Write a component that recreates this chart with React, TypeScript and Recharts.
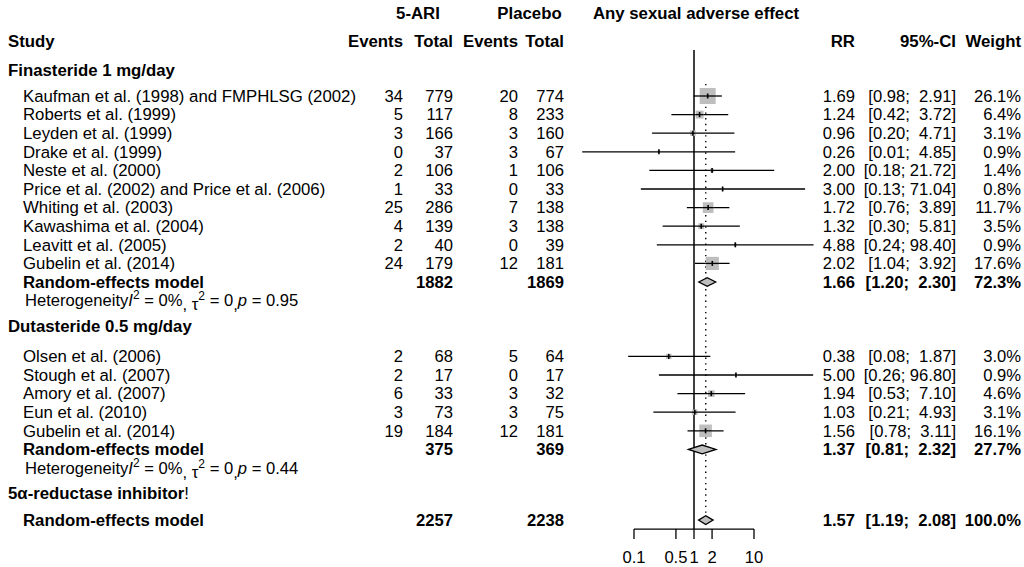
import React from 'react';
import { ComposedChart, XAxis, YAxis, Scatter, ReferenceLine } from 'recharts';

// ---------------- data ----------------
const finNames = [
  'Kaufman et al. (1998) and FMPHLSG (2002)',
  'Roberts et al. (1999)',
  'Leyden et al. (1999)',
  'Drake et al. (1999)',
  'Neste et al. (2000)',
  'Price et al. (2002) and Price et al. (2006)',
  'Whiting et al. (2003)',
  'Kawashima et al. (2004)',
  'Leavitt et al. (2005)',
  'Gubelin et al. (2014)',
];
const finEventsARI = [34, 5, 3, 0, 2, 1, 25, 4, 2, 24];
const finTotalARI = [779, 117, 166, 37, 106, 33, 286, 139, 40, 179];
const finEventsPlacebo = [20, 8, 3, 3, 1, 0, 7, 3, 0, 12];
const finTotalPlacebo = [774, 233, 160, 67, 106, 33, 138, 138, 39, 181];
const finRR = [1.69, 1.24, 0.96, 0.26, 2.0, 3.0, 1.72, 1.32, 4.88, 2.02];
const finLower = [0.98, 0.42, 0.2, 0.0137, 0.18, 0.13, 0.76, 0.3, 0.24, 1.04];
const finUpper = [2.91, 3.72, 4.71, 4.85, 21.72, 71.04, 3.89, 5.81, 98.4, 3.92];
const finWeight = [26.1, 6.4, 3.1, 0.9, 1.4, 0.8, 11.7, 3.5, 0.9, 17.6];

const dutNames = [
  'Olsen et al. (2006)',
  'Stough et al. (2007)',
  'Amory et al. (2007)',
  'Eun et al. (2010)',
  'Gubelin et al. (2014)',
];
const dutEventsARI = [2, 2, 6, 3, 19];
const dutTotalARI = [68, 17, 33, 73, 184];
const dutEventsPlacebo = [5, 0, 3, 3, 12];
const dutTotalPlacebo = [64, 17, 32, 75, 181];
const dutRR = [0.38, 5.0, 1.94, 1.03, 1.56];
const dutLower = [0.08, 0.26, 0.53, 0.21, 0.78];
const dutUpper = [1.87, 96.8, 7.1, 4.93, 3.11];
const dutWeight = [3.0, 0.9, 4.6, 3.1, 16.1];

const groupLabels = ['Finasteride 1 mg/day', 'Dutasteride 0.5 mg/day', '5α-reductase inhibitor'];
const pooledLabel = 'Random-effects model';
const pooledTotalARI = [1882, 375, 2257];
const pooledTotalPlacebo = [1869, 369, 2238];
const pooledRR = [1.66, 1.37, 1.57];
const pooledLower = [1.2, 0.81, 1.19];
const pooledUpper = [2.3, 2.32, 2.08];
const pooledWeight = [72.3, 27.7, 100.0];

const hetI2 = ['0%', '0%'];
const hetTau2 = ['0', '0'];
const hetP = ['0.95', '0.44'];

const tickValues = [0.1, 0.5, 1, 2, 10];
const tickLabels = ['0.1', '0.5', '1', '2', '10'];

const headerTop = ['5-ARI', 'Placebo', 'Any sexual adverse effect'];
const headerBottom = ['Study', 'Events', 'Total', 'Events', 'Total', 'RR', '95%-CI', 'Weight'];

// ---------------- layout ----------------
const W = 1024;
const H = 567;
const FONT = '"Liberation Sans", Arial, Helvetica, sans-serif';
const FS = 16.8;
const FS_NUM = 16.6;
const FS_HET = 16.6;
const X = {
  header: 8, study: 23, het: 25, evA: 403, totA: 453, evP: 518, totP: 564,
  rr: 855, ci: 956, w: 1021, hdrARI: 418, hdrPbo: 529.5, hdrForest: 696,
};
const R = {
  hdr1: -4.46, hdr2: -2.96, grp: [-1.4, 12.37, 21.34], finStart: 0, dutStart: 14,
  pooled: [10, 19, 22.8], het: [11, 20], axis: 23.28, tickEnd: 23.82, tickLbl: 24.78,
  refTop: -2.47, dotTop: -0.65, dotBottom: 22.42,
};
const DIAMOND_HALF = 0.235;
const SQ = 3.13;
const GRAY = '#bebebe';

type Study = {
  name: string; evA: number; totA: number; evP: number; totP: number;
  rr: number; lo: number; hi: number; w: number; row: number;
};

const studies: Study[] = [
  ...finNames.map((name, k) => ({
    name, evA: finEventsARI[k], totA: finTotalARI[k], evP: finEventsPlacebo[k], totP: finTotalPlacebo[k],
    rr: finRR[k], lo: finLower[k], hi: finUpper[k], w: finWeight[k], row: R.finStart + k,
  })),
  ...dutNames.map((name, k) => ({
    name, evA: dutEventsARI[k], totA: dutTotalARI[k], evP: dutEventsPlacebo[k], totP: dutTotalPlacebo[k],
    rr: dutRR[k], lo: dutLower[k], hi: dutUpper[k], w: dutWeight[k], row: R.dutStart + k,
  })),
];

const fmtCI = (lo: number, hi: number) => `[${lo.toFixed(2)}; ${hi.toFixed(2).padStart(5, ' ')}]`;
const fmtW = (w: number) => `${w.toFixed(1)}%`;

type Cell = {
  x: number; y: number; text: string; tx: number; anchor: 'start' | 'middle' | 'end';
  bold?: boolean; suffix?: string; kind?: string; k?: number; size?: number;
};

const cells: Cell[] = [];
const add = (y: number, text: string, tx: number, anchor: Cell['anchor'], bold = false, extra: Partial<Cell> = {}) =>
  cells.push({ x: 1, y, text, tx, anchor, bold, ...extra });

// headers
add(R.hdr1, headerTop[0], X.hdrARI, 'middle', true);
add(R.hdr1, headerTop[1], X.hdrPbo, 'middle', true);
add(R.hdr1, headerTop[2], X.hdrForest, 'middle', true);
const hdrX = [X.header, X.evA, X.totA, X.evP, X.totP, X.rr, X.ci, X.w];
headerBottom.forEach((h, k) => add(R.hdr2, h, hdrX[k], k === 0 ? 'start' : 'end', true));

// group labels
groupLabels.forEach((g, k) => add(R.grp[k], g, X.header, 'start', true, k === 2 ? { suffix: '!' } : {}));

// studies
studies.forEach((s) => {
  add(s.row, s.name, X.study, 'start');
  add(s.row, String(s.evA), X.evA, 'end', false, { size: FS_NUM });
  add(s.row, String(s.totA), X.totA, 'end', false, { size: FS_NUM });
  add(s.row, String(s.evP), X.evP, 'end', false, { size: FS_NUM });
  add(s.row, String(s.totP), X.totP, 'end', false, { size: FS_NUM });
  add(s.row, s.rr.toFixed(2), X.rr, 'end', false, { size: FS_NUM });
  add(s.row, fmtCI(s.lo, s.hi), X.ci, 'end', false, { size: FS_NUM });
  add(s.row, fmtW(s.w), X.w, 'end', false, { size: FS_NUM });
});

// pooled rows
pooledRR.forEach((rr, k) => {
  const y = R.pooled[k];
  add(y, pooledLabel, X.study, 'start', true);
  add(y, String(pooledTotalARI[k]), X.totA, 'end', true, { size: FS_NUM });
  add(y, String(pooledTotalPlacebo[k]), X.totP, 'end', true, { size: FS_NUM });
  add(y, rr.toFixed(2), X.rr, 'end', true, { size: FS_NUM });
  add(y, fmtCI(pooledLower[k], pooledUpper[k]), X.ci, 'end', true, { size: FS_NUM });
  add(y, fmtW(pooledWeight[k]), X.w, 'end', true, { size: FS_NUM });
});

// heterogeneity
hetP.forEach((p, k) => add(R.het[k], p, X.het, 'start', false, { kind: 'het', k }));

const squareData = studies.map((s) => ({ x: s.rr, y: s.row, w: s.w }));
const diamonds = pooledRR.map((rr, k) => {
  const y = R.pooled[k];
  return [
    { x: pooledLower[k], y },
    { x: rr, y: y - DIAMOND_HALF },
    { x: pooledUpper[k], y },
    { x: rr, y: y + DIAMOND_HALF },
  ];
});
const tickCells = tickValues.map((t, k) => ({ x: t, y: R.tickLbl, text: tickLabels[k] }));

// ---------------- shapes ----------------
const SquareShape = (props: any) => {
  const { cx, cy, payload } = props;
  if (cx == null || cy == null || !payload) return <g />;
  const s = SQ * Math.sqrt(payload.w);
  return (
    <g>
      <rect x={cx - s / 2} y={cy - s / 2} width={s} height={s} fill={GRAY} />
      <line x1={cx - s / 2} x2={cx + s / 2} y1={cy} y2={cy} stroke="#000" strokeWidth={1.3} />
      <line x1={cx} x2={cx} y1={cy - 2.5} y2={cy + 2.5} stroke="#000" strokeWidth={1.6} />
    </g>
  );
};

const EmptyShape = () => <g />;

const DiamondLine = (props: any) => {
  const pts = (props.points || []) as { x: number; y: number }[];
  return (
    <polygon
      points={pts.map((p) => `${p.x},${p.y}`).join(' ')}
      fill={GRAY}
      stroke="#000"
      strokeWidth={1.3}
    />
  );
};

const TextShape = (props: any) => {
  const { cy, payload } = props;
  if (cy == null || !payload) return <g />;
  const base = { fontFamily: FONT, fill: '#000', style: { whiteSpace: 'pre' as const } };
  if (payload.kind === 'het') {
    const b = cy + FS_HET * 0.35;
    const k = payload.k as number;
    return (
      <text x={payload.tx} y={b} fontSize={FS_HET} {...base} xmlSpace="preserve">
        Heterogeneity
        <tspan fontStyle="italic" y={b}>I</tspan>
        <tspan fontSize={12} y={b - 7}>2</tspan>
        <tspan y={b}>{` = ${hetI2[k]}`}</tspan>
        <tspan y={b + 4}>,</tspan>
        <tspan y={b + 4}>{' τ'}</tspan>
        <tspan fontSize={12} y={b - 6}>2</tspan>
        <tspan y={b}>{` = ${hetTau2[k]}`}</tspan>
        <tspan y={b + 4}>,</tspan>
        <tspan fontStyle="italic" y={b}>p</tspan>
        <tspan y={b}>{` = ${payload.text}`}</tspan>
      </text>
    );
  }
  return (
    <text
      x={payload.tx}
      y={cy}
      dy="0.35em"
      fontSize={payload.size ?? FS}
      textAnchor={payload.anchor}
      fontWeight={payload.bold ? 'bold' : 'normal'}
      xmlSpace="preserve"
      {...base}
    >
      {payload.text}
      {payload.suffix ? <tspan fontWeight="normal">{payload.suffix}</tspan> : null}
    </text>
  );
};

const TickText = (props: any) => {
  const { cx, cy, payload } = props;
  if (cx == null || cy == null || !payload) return <g />;
  return (
    <text x={cx} y={cy} dy="0.35em" textAnchor="middle" fontSize={FS_NUM} fontFamily={FONT} fill="#000">
      {payload.text}
    </text>
  );
};

export default function App() {
  return (
    <div style={{ position: 'absolute', left: 0, top: 0, width: W, height: H, background: '#fff' }}>
      <ComposedChart width={W} height={H} margin={{ top: 3, right: 210, bottom: 0.4, left: 574 }}>
        <XAxis type="number" dataKey="x" scale="log" domain={[0.01, 100]} hide />
        <YAxis type="number" dataKey="y" domain={[-5, 25.3]} reversed hide />

        <ReferenceLine
          segment={[{ x: 1, y: R.refTop }, { x: 1, y: R.axis }]}
          stroke="#000"
          strokeWidth={1.5}
          ifOverflow="visible"
        />
        <ReferenceLine
          segment={[{ x: pooledRR[2], y: R.dotTop }, { x: pooledRR[2], y: R.dotBottom }]}
          stroke="#000"
          strokeWidth={1.4}
          strokeDasharray="1.4 4.3"
          ifOverflow="visible"
        />
        {studies.map((s, k) => (
          <ReferenceLine
            key={`ci-${k}`}
            segment={[{ x: s.lo, y: s.row }, { x: s.hi, y: s.row }]}
            stroke="#000"
            strokeWidth={1.3}
            ifOverflow="visible"
          />
        ))}
        <ReferenceLine
          segment={[{ x: tickValues[0], y: R.axis }, { x: tickValues[tickValues.length - 1], y: R.axis }]}
          stroke="#000"
          strokeWidth={1.3}
          ifOverflow="visible"
        />
        {tickValues.map((t, k) => (
          <ReferenceLine
            key={`tick-${k}`}
            segment={[{ x: t, y: R.axis }, { x: t, y: R.tickEnd }]}
            stroke="#000"
            strokeWidth={1.3}
            ifOverflow="visible"
          />
        ))}

        <Scatter data={squareData} shape={SquareShape} isAnimationActive={false} />
        {diamonds.map((d, k) => (
          <Scatter key={`dia-${k}`} data={d} shape={EmptyShape} line={DiamondLine} isAnimationActive={false} />
        ))}
        <Scatter data={cells} shape={TextShape} isAnimationActive={false} />
        <Scatter data={tickCells} shape={TickText} isAnimationActive={false} />
      </ComposedChart>
    </div>
  );
}
